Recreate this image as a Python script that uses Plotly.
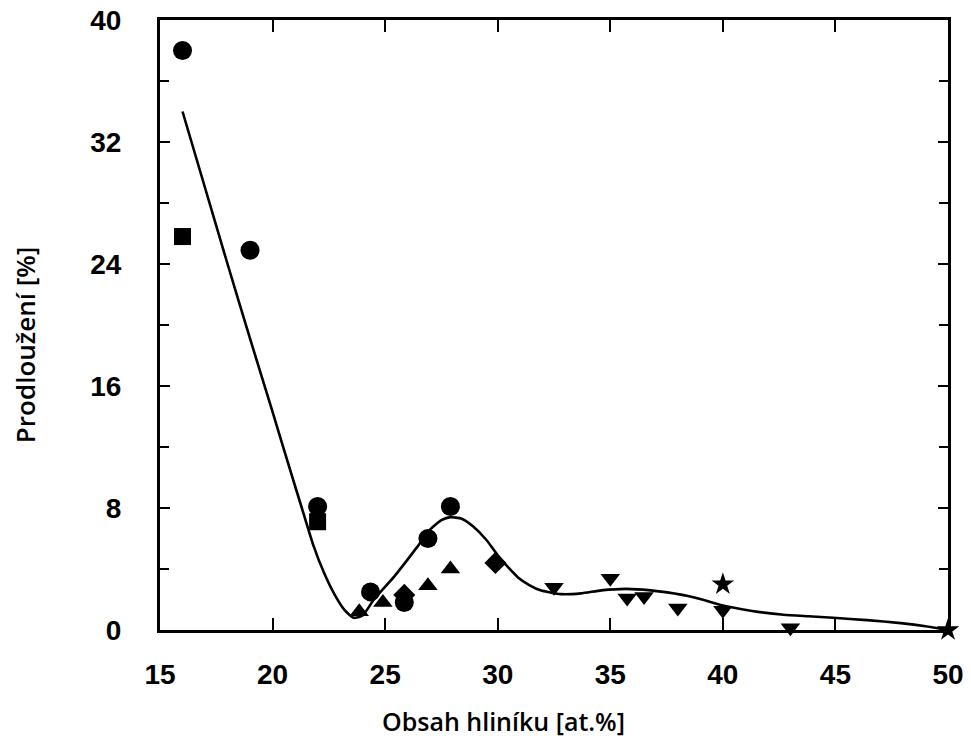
import plotly.graph_objects as go

# ---- data ----
circle_x = [16.0, 19.0, 22.0, 24.35, 25.85, 26.9, 27.9]
circle_y = [38.0, 24.9, 8.1, 2.5, 1.8, 6.0, 8.1]

square_x = [16.0, 22.0]
square_y = [25.8, 7.1]

tri_up_x = [23.85, 24.9, 26.9, 27.9]
tri_up_y = [1.2, 1.8, 2.9, 4.0]

diamond_x = [25.85, 29.9]
diamond_y = [2.3, 4.4]

tri_down_x = [32.5, 35.0, 35.75, 36.5, 38.0, 40.0, 43.0]
tri_down_y = [2.8, 3.4, 2.1, 2.2, 1.45, 1.3, 0.15]

star_x = [40.0, 50.0]
star_y = [3.0, 0.0]

curve_x = [16.0, 17.0, 18.0, 19.0, 20.0, 20.8, 21.3, 21.8, 22.3, 22.8, 23.2, 23.6, 24.0,
           24.5, 25.4, 26.4, 27.0, 27.5, 27.9, 28.4, 28.9, 29.5, 30.0, 30.5, 30.9, 31.4,
           31.9, 32.8, 33.7, 34.6, 35.7, 36.8, 37.6, 38.4, 39.2, 40.0, 41.3, 42.7, 43.8,
           44.9, 46.4, 47.9, 49.0, 50.0]
curve_y = [34.0, 29.0, 24.0, 19.1, 14.3, 10.4, 8.0, 5.6, 3.7, 2.2, 1.3, 0.8, 0.95,
           2.0, 3.5, 5.4, 6.6, 7.2, 7.4, 7.3, 6.8, 5.9, 4.9, 4.05, 3.45, 2.95,
           2.6, 2.35, 2.4, 2.6, 2.7, 2.6, 2.45, 2.25, 1.95, 1.6, 1.25, 1.0, 0.9,
           0.8, 0.65, 0.45, 0.25, 0.0]

x_ticks = [15, 20, 25, 30, 35, 40, 45, 50]
y_ticks = [0, 8, 16, 24, 32, 40]

x_title = "Obsah hliníku [at.%]"
y_title = "Prodloužení [%]"

fig = go.Figure()

fig.add_trace(go.Scatter(x=curve_x, y=curve_y, mode="lines",
                         line=dict(color="black", width=2.6, shape="spline", smoothing=0.5),
                         hoverinfo="skip"))

def mk(x, y, symbol, size):
    fig.add_trace(go.Scatter(x=x, y=y, mode="markers", cliponaxis=False,
                             marker=dict(symbol=symbol, size=size, color="black",
                                         line=dict(width=0))))

mk(square_x, square_y, "square", 17)
mk(circle_x, circle_y, "circle", 19)
mk(tri_up_x, tri_up_y, "triangle-up", 17)
mk(diamond_x, diamond_y, "diamond", 17)
mk(tri_down_x, tri_down_y, "triangle-down", 17)
mk(star_x, star_y, "star", 17)

tick_font = dict(family="Liberation Sans", size=28, color="black", weight="bold")

fig.update_xaxes(range=[15, 50], tickvals=x_ticks, ticks="inside", ticklen=12, tickwidth=2,
                 tickcolor="black", showline=True, linewidth=3, linecolor="black",
                 mirror="ticks", showgrid=False, zeroline=False, tickfont=tick_font,
                 ticklabelstandoff=17, automargin=False)
fig.update_yaxes(range=[0, 40], tickvals=y_ticks, ticks="inside", ticklen=10, tickwidth=2,
                 tickcolor="black", showline=True, linewidth=3, linecolor="black",
                 mirror="ticks", showgrid=False, zeroline=False, tickfont=tick_font,
                 ticklabelstandoff=30, automargin=False,
                 minor=dict(tickvals=[4, 12, 20, 28, 36], ticks="inside", ticklen=9,
                            tickwidth=2, tickcolor="black", showgrid=False))

title_font = dict(family="Open Sans", size=25, color="black", weight=600)
fig.add_annotation(text=x_title, xref="paper", yref="paper", x=0.4365, y=0,
                   yshift=-91, xanchor="center", yanchor="middle", showarrow=False,
                   font=title_font)
fig.add_annotation(text=y_title, xref="paper", yref="paper", x=0, y=0.467,
                   xshift=-135, xanchor="center", yanchor="middle", showarrow=False,
                   textangle=-90, font=dict(family="Open Sans", size=26, color="black", weight=600))

fig.update_layout(width=971, height=740, margin=dict(l=160, r=23, t=20, b=110),
                  plot_bgcolor="white", paper_bgcolor="white", showlegend=False)

fig.write_html("out.html", config={"displayModeBar": False},
               post_script="document.body.style.margin='0px';document.body.style.overflow='hidden';")
